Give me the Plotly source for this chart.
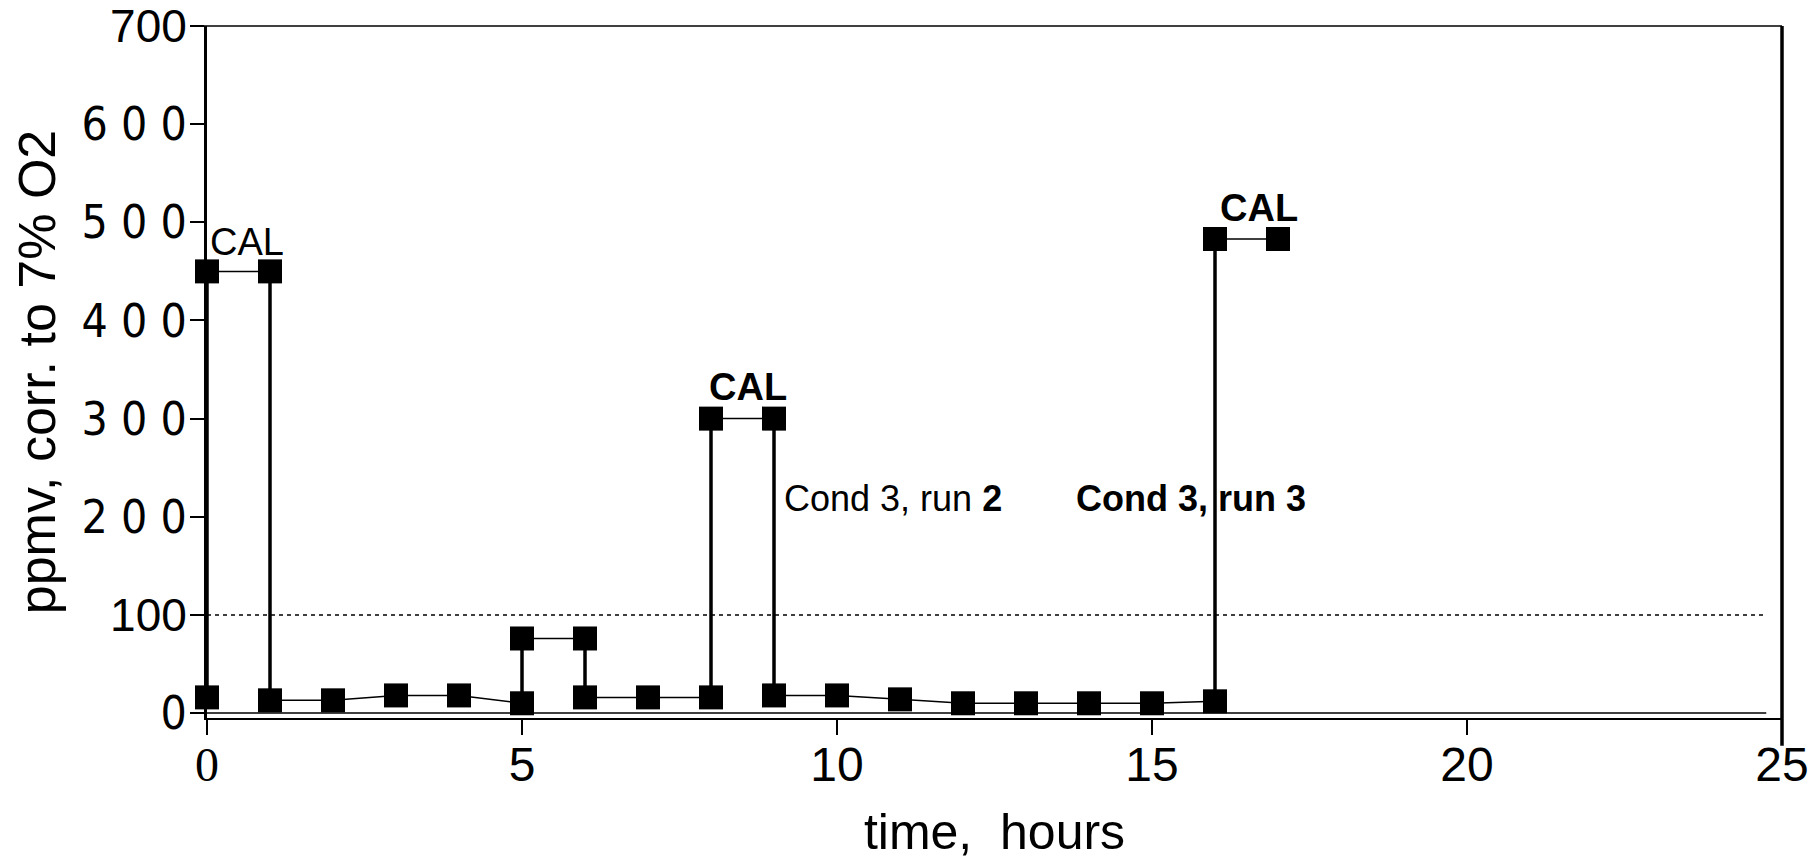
import plotly.graph_objects as go

# measured concentration, in the order the trace is drawn (vertical jumps = calibration/checks)
time_h = [0, 0, 1, 1, 2, 3, 4, 5, 5, 6, 6, 7, 8, 8, 9, 9, 10, 11, 12, 13, 14, 15, 16, 16, 17]
ppmv = [16, 450, 450, 13, 13, 18, 18, 10, 76, 76, 16, 16, 16, 300, 300, 18, 18, 14, 10, 10, 10, 10, 12, 483, 483]

# permit limit (dotted) and zero baseline
limit_t = [0, 24.75]
limit_v = [100, 100]
base_t = [0, 24.75]
base_v = [0, 0]

x_ticks = [0, 5, 10, 15, 20, 25]
x_labels = ["<span style='font-family:Liberation Sans Narrow'>0</span>", "5", "10", "15", "20", "25"]
y_ticks = [0, 100, 200, 300, 400, 500, 600, 700]
y_labels = ["0", "<span style='font-family:Liberation Sans'>100</span>", "2 0 0", "3 0 0",
            "4 0 0", "5 0 0", "6 0 0", "<span style='font-family:Liberation Sans'>700</span>"]

NARROW = "Liberation Sans Narrow, DejaVu Sans Condensed, Arial Narrow, sans-serif"
SANS = "Liberation Sans, Arial, sans-serif"

# thick vertical segments where two consecutive readings share the same time
jump_x, jump_y = [], []
for i in range(1, len(time_h)):
    if time_h[i] == time_h[i - 1]:
        jump_x += [time_h[i - 1], time_h[i], None]
        jump_y += [ppmv[i - 1], ppmv[i], None]

fig = go.Figure()

fig.add_trace(go.Scatter(x=base_t, y=base_v, mode="lines",
                         line=dict(color="black", width=1.5), cliponaxis=False))
fig.add_trace(go.Scatter(x=limit_t, y=limit_v, mode="lines",
                         line=dict(color="black", width=1.5, dash="4px,4px"), cliponaxis=False))
fig.add_trace(go.Scatter(x=jump_x, y=jump_y, mode="lines",
                         line=dict(color="black", width=3.5), cliponaxis=False))
fig.add_trace(go.Scatter(x=time_h, y=ppmv, mode="lines+markers",
                         line=dict(color="black", width=1.5),
                         marker=dict(symbol="square", size=24, color="black"),
                         cliponaxis=False))

annotations = [
    dict(x=0.64, y=480, text="CAL", font=dict(size=38)),
    dict(x=8.59, y=332, text="<b>CAL</b>", font=dict(size=38)),
    dict(x=16.7, y=515, text="<b>CAL</b>", font=dict(size=38)),
    dict(x=9.12, y=219, text="Cond 3, run <b>2</b>", xanchor="left", font=dict(size=36)),
    dict(x=13.76, y=219, text="<b>Cond 3, run 3</b>", xanchor="left", font=dict(size=36)),
]
for a in annotations:
    a.setdefault("xanchor", "center")
    a.update(xref="x", yref="y", showarrow=False)
    a["font"].update(family=SANS, color="black")

fig.update_layout(
    width=1820, height=862,
    margin=dict(l=199, r=46, t=18, b=152),
    paper_bgcolor="white", plot_bgcolor="white",
    showlegend=False,
    annotations=annotations,
    font=dict(family=SANS, color="black"),
    shapes=[
        dict(type="line", xref="paper", yref="paper", x0=-0.009, x1=1, y0=1, y1=1,
             line=dict(color="black", width=1.5)),
        dict(type="line", xref="paper", yref="paper", x0=1, x1=1, y0=-0.04, y1=1,
             line=dict(color="black", width=3.5)),
    ],
)

fig.update_xaxes(
    range=[0, 25], tickvals=x_ticks, ticktext=x_labels, automargin=False,
    showgrid=False, zeroline=False,
    showline=True, linecolor="black", linewidth=2,
    ticks="outside", ticklen=15, tickwidth=2, tickcolor="black",
    ticklabelstandoff=-12, ticklabeloverflow="allow",
    tickfont=dict(family=SANS, size=48),
    title=dict(text="time,  hours", font=dict(family=SANS, size=50), standoff=24),
)
fig.update_yaxes(
    range=[-5, 700], tickvals=y_ticks, ticktext=y_labels, automargin=False,
    showgrid=False, zeroline=False,
    showline=True, linecolor="black", linewidth=3,
    ticks="outside", ticklen=14, tickwidth=1.5, tickcolor="black",
    ticklabelstandoff=-6, ticklabeloverflow="allow",
    tickfont=dict(family=NARROW, size=46),
    title=dict(text="ppmv, corr. to 7% O2", font=dict(family=SANS, size=52), standoff=24),
)

fig.write_html("out.html")
